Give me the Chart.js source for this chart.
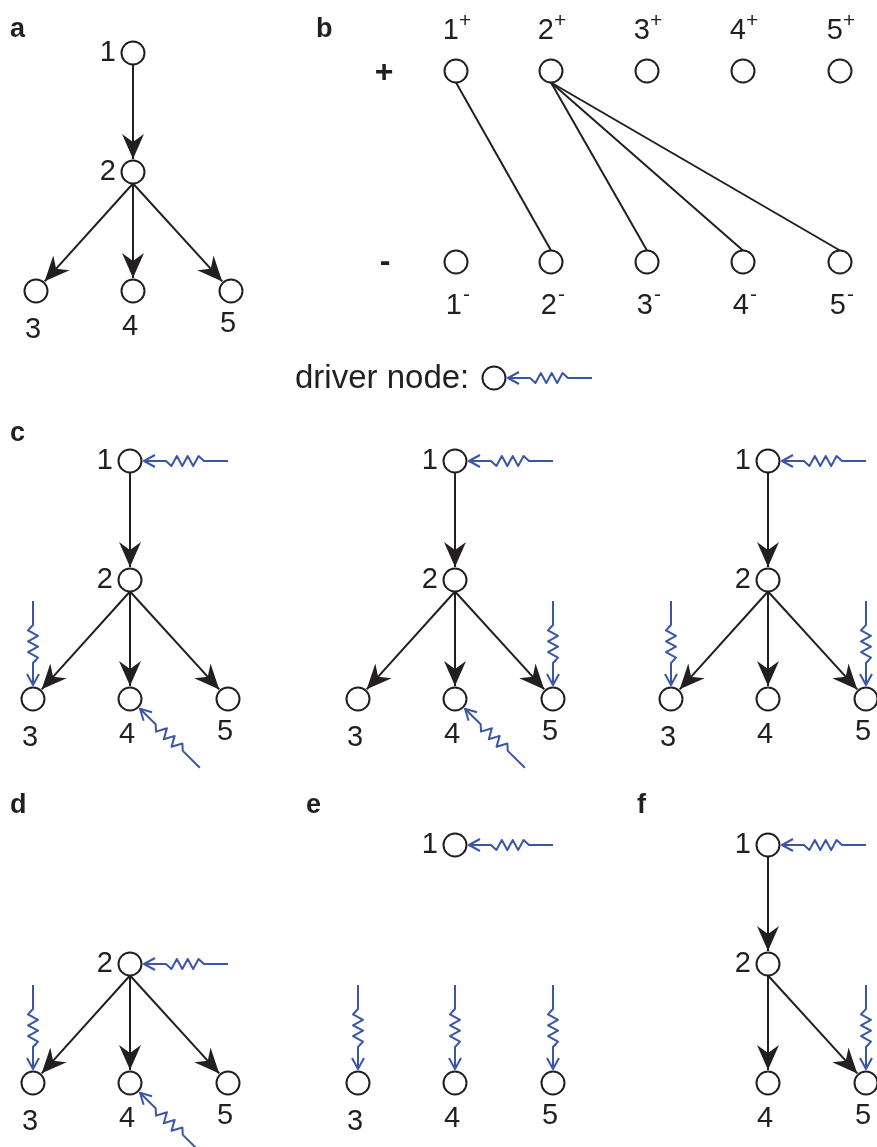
<!DOCTYPE html>
<html>
<head>
<meta charset="utf-8">
<script src="https://cdn.jsdelivr.net/npm/chart.js@4.4.0/dist/chart.umd.min.js"></script>
<style>
  html, body { margin: 0; padding: 0; background: #fff; }
  #wrap { width: 877px; height: 1147px; }
</style>
</head>
<body>
<div id="wrap"><canvas id="myChart"></canvas></div>
<script>
// tree shared by every small graph (offsets from node 1)
const nodeNames = ['1', '2', '3', '4', '5'];
const treeDx = [0, 0, -97, 0, 98];
const treeDy = [0, 119, 238, 238, 238];
const labelDy = [0, 0, 39, 36, 33];

// graphs: a, c (three copies), d, e, f
const graphX = [133, 130, 455, 768, 130, 455, 768];
const graphY = [53, 461, 461, 461, 845, 845, 845];
const graphNodes = [
    [0, 1, 2, 3, 4],
    [0, 1, 2, 3, 4],
    [0, 1, 2, 3, 4],
    [0, 1, 2, 3, 4],
    [1, 2, 3, 4],
    [0, 2, 3, 4],
    [0, 1, 3, 4]
];
const graphEdges = [
    [[0, 1], [1, 2], [1, 3], [1, 4]],
    [[0, 1], [1, 2], [1, 3], [1, 4]],
    [[0, 1], [1, 2], [1, 3], [1, 4]],
    [[0, 1], [1, 2], [1, 3], [1, 4]],
    [[1, 2], [1, 3], [1, 4]],
    [],
    [[0, 1], [1, 3], [1, 4]]
];
const graphDrivers = [
    [],
    [[0, 'right'], [2, 'top'], [3, 'diag']],
    [[0, 'right'], [4, 'top'], [3, 'diag']],
    [[0, 'right'], [2, 'top'], [4, 'top']],
    [[1, 'right'], [2, 'top'], [3, 'diag']],
    [[0, 'right'], [2, 'top'], [3, 'top'], [4, 'top']],
    [[0, 'right'], [4, 'top']]
];

// panel b: bipartite graph and its matching
const bipX = [456, 551, 647, 743, 840];
const bipPlusY = 71;
const bipMinusY = 262;
const matching = [[0, 1], [1, 2], [1, 3], [1, 4]];

// legend node
const legendX = 494;
const legendY = 378;

const panelLetters = ['a', 'b', 'c', 'd', 'e', 'f'];
const letterX = [10, 316, 10, 10, 306, 637];
const letterY = [30, 30, 434, 806, 806, 806];

const R = 11.5;
const INK = '#231f20';
const BLUE = '#3b56a6';
const FONT = '"Liberation Sans", Arial, sans-serif';

// build node points and edge segments
const nodePoints = [];
const nodeTexts = [];
const segments = [];
graphX.forEach(function (ox, g) {
    const oy = graphY[g];
    graphNodes[g].forEach(function (k) {
        nodePoints.push({ x: ox + treeDx[k], y: oy + treeDy[k] });
        nodeTexts.push({ k: k, x: ox + treeDx[k], y: oy + treeDy[k] });
    });
    graphEdges[g].forEach(function (e) {
        const sx = ox + treeDx[e[0]], sy = oy + treeDy[e[0]] + R;
        const cx = ox + treeDx[e[1]], cy = oy + treeDy[e[1]];
        const d = Math.hypot(cx - sx, cy - sy);
        const ux = (cx - sx) / d, uy = (cy - sy) / d;
        segments.push({ x1: sx, y1: sy, x2: cx - ux * (R + 1.5), y2: cy - uy * (R + 1.5), arrow: true });
    });
});
bipX.forEach(function (x) {
    nodePoints.push({ x: x, y: bipPlusY });
    nodePoints.push({ x: x, y: bipMinusY });
});
matching.forEach(function (m) {
    segments.push({ x1: bipX[m[0]], y1: bipPlusY + R, x2: bipX[m[1]], y2: bipMinusY - R, arrow: false });
});
nodePoints.push({ x: legendX, y: legendY });

const datasets = segments.map(function (s) {
    return {
        data: [{ x: s.x1, y: s.y1 }, { x: s.x2, y: s.y2 }],
        showLine: true,
        borderColor: INK,
        borderWidth: 2,
        pointRadius: 0,
        order: 2
    };
});
datasets.push({
    data: nodePoints,
    pointRadius: R,
    pointBackgroundColor: '#fff',
    pointBorderColor: INK,
    pointBorderWidth: 2,
    order: 1
});

function drawDriver(ctx, cx, cy, ux, uy) {
    const tx = cx - ux * (R + 2.5), ty = cy - uy * (R + 2.5);
    const L = 84;
    const sx = tx - ux * L, sy = ty - uy * L;
    const nx = -uy, ny = ux;
    const z0 = 24, z1 = 62, n = 7;
    ctx.beginPath();
    ctx.moveTo(sx, sy);
    ctx.lineTo(sx + ux * z0, sy + uy * z0);
    for (let i = 1; i < n; i++) {
        const d = z0 + (z1 - z0) * i / n;
        const s = (i % 2 ? 1 : -1) * 5;
        ctx.lineTo(sx + ux * d + nx * s, sy + uy * d + ny * s);
    }
    ctx.lineTo(sx + ux * z1, sy + uy * z1);
    ctx.lineTo(tx, ty);
    ctx.stroke();
    ctx.beginPath();
    ctx.moveTo(tx - ux * 11 + nx * 6, ty - uy * 11 + ny * 6);
    ctx.lineTo(tx, ty);
    ctx.lineTo(tx - ux * 11 - nx * 6, ty - uy * 11 - ny * 6);
    ctx.stroke();
}

const dirs = { right: [-1, 0], top: [0, 1], diag: [-0.713, -0.701] };

const diagramPlugin = {
    id: 'diagram',
    afterDatasetsDraw: function (chart) {
        const ctx = chart.ctx;
        const xs = chart.scales.x, ys = chart.scales.y;
        const px = function (v) { return xs.getPixelForValue(v); };
        const py = function (v) { return ys.getPixelForValue(v); };
        ctx.save();

        // arrow heads
        ctx.fillStyle = INK;
        segments.forEach(function (s) {
            if (!s.arrow) return;
            const x1 = px(s.x1), y1 = py(s.y1), x2 = px(s.x2), y2 = py(s.y2);
            const d = Math.hypot(x2 - x1, y2 - y1);
            const ux = (x2 - x1) / d, uy = (y2 - y1) / d;
            const nx = -uy, ny = ux;
            ctx.beginPath();
            ctx.moveTo(x2, y2);
            ctx.lineTo(x2 - ux * 25 + nx * 11, y2 - uy * 25 + ny * 11);
            ctx.lineTo(x2 - ux * 17, y2 - uy * 17);
            ctx.lineTo(x2 - ux * 25 - nx * 11, y2 - uy * 25 - ny * 11);
            ctx.closePath();
            ctx.fill();
        });

        // driver inputs
        ctx.strokeStyle = BLUE;
        ctx.lineWidth = 2;
        ctx.lineJoin = 'round';
        graphDrivers.forEach(function (list, g) {
            list.forEach(function (dv) {
                const k = dv[0], u = dirs[dv[1]];
                drawDriver(ctx, px(graphX[g] + treeDx[k]), py(graphY[g] + treeDy[k]), u[0], u[1]);
            });
        });
        drawDriver(ctx, px(legendX), py(legendY), -1, 0);

        // node labels
        ctx.fillStyle = INK;
        ctx.textBaseline = 'middle';
        ctx.font = '29px ' + FONT;
        nodeTexts.forEach(function (t) {
            if (t.k < 2) {
                ctx.textAlign = 'right';
                ctx.fillText(nodeNames[t.k], px(t.x) - 17, py(t.y));
            } else {
                ctx.textAlign = 'center';
                ctx.fillText(nodeNames[t.k], px(t.x) - 3, py(t.y + labelDy[t.k]));
            }
        });

        // panel b labels
        bipX.forEach(function (x, i) {
            ctx.textAlign = 'right';
            ctx.font = '29px ' + FONT;
            ctx.fillText(nodeNames[i], px(x) + 3, py(31));
            ctx.fillText(nodeNames[i], px(x) + 6, py(306));
            ctx.textAlign = 'left';
            ctx.font = '21px ' + FONT;
            ctx.fillText('+', px(x) + 3, py(21));
            ctx.fillText('-', px(x) + 7, py(295));
        });
        ctx.textAlign = 'center';
        ctx.font = 'bold 32px ' + FONT;
        ctx.fillText('+', px(384), py(73));
        ctx.fillText('-', px(385), py(262));

        // legend text
        ctx.textAlign = 'left';
        ctx.font = '33px ' + FONT;
        ctx.fillText('driver node:', px(295), py(379));

        // panel letters
        ctx.font = 'bold 27px ' + FONT;
        panelLetters.forEach(function (l, i) {
            ctx.fillText(l, px(letterX[i]), py(letterY[i]));
        });
        ctx.restore();
    }
};

const ctx = document.getElementById('myChart').getContext('2d');
const myChart = new Chart(ctx, {
    type: 'scatter',
    data: { datasets: datasets },
    options: {
        responsive: true,
        maintainAspectRatio: false,
        animation: false,
        layout: { padding: 0, autoPadding: false },
        plugins: { legend: { display: false }, tooltip: { enabled: false } },
        elements: { line: { tension: 0 } },
        scales: {
            x: { type: 'linear', min: 0, max: 877, display: false },
            y: { type: 'linear', min: 0, max: 1147, reverse: true, display: false }
        }
    },
    plugins: [diagramPlugin]
});
</script>
</body>
</html>
